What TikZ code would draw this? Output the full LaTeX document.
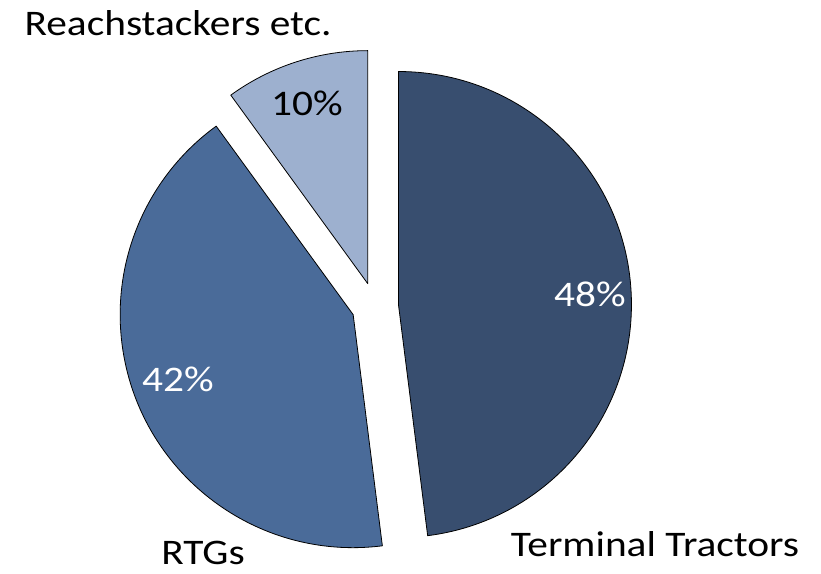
\documentclass[tikz,border=0pt]{standalone}
\usepackage{fontspec}
\setmainfont{Carlito}
\usetikzlibrary{calc}
\definecolor{scuro}{HTML}{384E6F}
\definecolor{medio}{HTML}{4A6B99}
\definecolor{chiaro}{HTML}{9DB0CF}

\begin{document}
\begin{tikzpicture}[x=1pt, y=1pt,
	fetta/.style={draw=black, line width=0.8pt, line join=round},
	etichetta/.style={inner sep=0pt, anchor=base, xscale=1.15, transform shape, font=\fontsize{36}{40}\selectfont}]
					\useasboundingbox (0,0) rectangle (821,573);
					
					%%% Punti
					\def\R{233}		% raggio
					\def\d{23.5}	% esplosione
					\coordinate (O) at (375,267);				% centro della torta
					\coordinate (TT) at ($(O)+(3.6:\d)$);		% vertice Terminal Tractors
					\coordinate (RTG) at ($(O)+(201.6:\d)$);	% vertice RTGs
					\coordinate (RS) at ($(O)+(108:\d)$);		% vertice Reachstackers
					
					%%% Disegno
					\draw[fetta, fill=scuro] (TT) -- ++(90:\R) arc (90:-82.8:\R) -- cycle;
					\draw[fetta, fill=medio] (RTG) -- ++(-82.8:\R) arc (-82.8:-234:\R) -- cycle;
					\draw[fetta, fill=chiaro] (RS) -- ++(126:\R) arc (126:90:\R) -- cycle;
					
					%%% Percentuali
					\node[etichetta, white] (p48) at (590,266) {48\%};
					\node[etichetta, white] (p42) at (178,181) {42\%};
					\node[etichetta] (p10) at (307,457) {10\%};
					
					%%% Nomi
					\node[etichetta] (nRS) at (178,537) {Reachstackers etc.};
					\node[etichetta, text depth=0pt] (nRTG) at (203,9) {RTGs};
					\node[etichetta] (nTT) at (655,17) {Terminal Tractors};
				\end{tikzpicture}
\end{document}
